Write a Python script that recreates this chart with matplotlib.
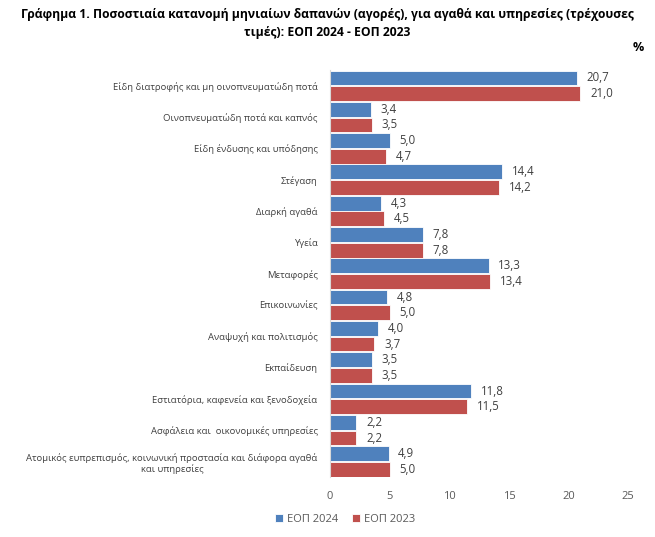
import numpy as np
import matplotlib
matplotlib.use("Agg")
import matplotlib.pyplot as plt

plt.rcParams['font.family'] = ['Open Sans', 'DejaVu Sans']

# Κατηγορίες δαπανών
categories = [
    "Είδη διατροφής και μη οινοπνευματώδη ποτά",
    "Οινοπνευματώδη ποτά και καπνός",
    "Είδη ένδυσης και υπόδησης",
    "Στέγαση",
    "Διαρκή αγαθά",
    "Υγεία",
    "Μεταφορές",
    "Επικοινωνίες",
    "Αναψυχή και πολιτισμός",
    "Εκπαίδευση",
    "Εστιατόρια, καφενεία και ξενοδοχεία",
    "Ασφάλεια και  οικονομικές υπηρεσίες",
    "Ατομικός ευπρεπισμός, κοινωνική προστασία και διάφορα αγαθά\nκαι υπηρεσίες",
]
eop_2024 = [20.7, 3.4, 5.0, 14.4, 4.3, 7.8, 13.3, 4.8, 4.0, 3.5, 11.8, 2.2, 4.9]
eop_2023 = [21.0, 3.5, 4.7, 14.2, 4.5, 7.8, 13.4, 5.0, 3.7, 3.5, 11.5, 2.2, 5.0]
series_names = ["ΕΟΠ 2024", "ΕΟΠ 2023"]
x_ticks = [0, 5, 10, 15, 20, 25]

blue = "#4F81BD"
red = "#C0504D"
txt = "#404040"

fig = plt.figure(figsize=(6.55, 5.37), dpi=100)
ax = fig.add_axes([0.504, 0.1114, 0.455, 0.7581])

y = np.arange(len(categories))
h = 0.47
b1 = ax.barh(y - 0.25, eop_2024, height=h, color=blue, label=series_names[0],
             edgecolor="white", linewidth=0.6)
b2 = ax.barh(y + 0.25, eop_2023, height=h, color=red, label=series_names[1],
             edgecolor="white", linewidth=0.6)

for bars in (b1, b2):
    for rect in bars:
        v = rect.get_width()
        ax.annotate(f"{v:.1f}".replace(".", ","),
                    (v, rect.get_y() + rect.get_height() / 2),
                    xytext=(7, 0), textcoords="offset points",
                    va="center", ha="left", fontsize=8.3, color=txt)

ax.set_xlim(0, 25)
ax.set_ylim(12.5, -0.5)
ax.set_xticks(x_ticks)
ax.set_xticklabels([str(t) for t in x_ticks], fontsize=8, color="#595959")
ax.set_yticks(y)
ax.set_yticklabels(categories, fontsize=6.8, color=txt, multialignment="center")
ax.tick_params(axis="x", length=0, pad=10)
ax.tick_params(axis="y", length=0, pad=9)

for s in ["top", "right", "bottom"]:
    ax.spines[s].set_visible(False)
ax.spines["left"].set_color("#D9D9D9")

fig.text(0.5, 0.985,
         "Γράφημα 1. Ποσοστιαία κατανομή μηνιαίων δαπανών (αγορές), για αγαθά και υπηρεσίες (τρέχουσες\nτιμές): ΕΟΠ 2024 - ΕΟΠ 2023",
         ha="center", va="top", fontsize=8.7, fontweight="bold",
         multialignment="center", linespacing=1.45)
fig.text(0.975, 0.912, "%", ha="center", va="center", fontsize=9, fontweight="bold")

fig.legend(handles=[b1, b2], loc="center", bbox_to_anchor=(0.527, 0.033),
           ncol=2, frameon=False, fontsize=8, handlelength=0.7, handleheight=0.7,
           columnspacing=1.2, handletextpad=0.4, labelcolor="#595959")

fig.savefig("out.png", dpi=100)
